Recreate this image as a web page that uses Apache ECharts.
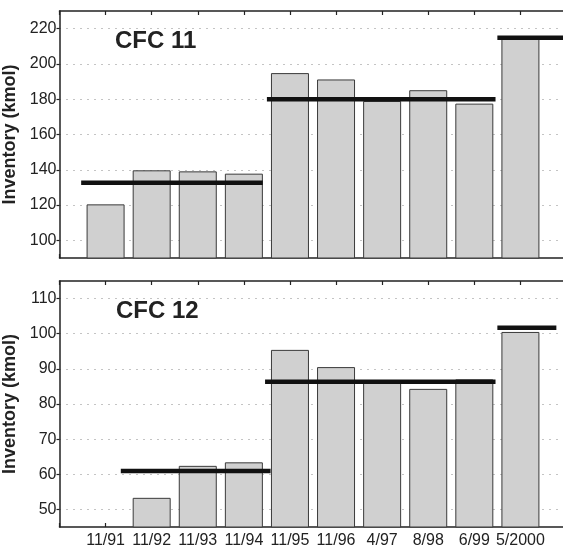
<!DOCTYPE html>
<html>
<head>
<meta charset="utf-8">
<script src="https://cdn.jsdelivr.net/npm/echarts@6/dist/echarts.min.js"></script>
<style>
html,body{margin:0;padding:0;background:#fff;}
#chart{width:563px;height:551px;}
</style>
</head>
<body>
<div id="chart"></div>
<script>
// ---- data ----
const categories = ['11/91','11/92','11/93','11/94','11/95','11/96','4/97','8/98','6/99','5/2000'];
const cfc11Values = [120.4, 139.7, 139.1, 137.8, 194.8, 191.2, 179, 185.1, 177.5, 214.4];
const cfc12Values = [null, 53.3, 62.4, 63.4, 95.4, 90.5, 86, 84.3, 87, 100.5];
// group means (thick lines): start / end on the category scale, and value
const cfc11MeanStart = [0.47, 4.5, 9.5];
const cfc11MeanEnd   = [4.41, 9.46, 11];
const cfc11MeanValue = [132.6, 180, 214.8];
const cfc12MeanStart = [1.33, 4.46, 9.5];
const cfc12MeanEnd   = [4.58, 9.46, 10.78];
const cfc12MeanValue = [60.9, 86.3, 101.7];
const cfc11Ticks = [100, 120, 140, 160, 180, 200, 220];
const cfc12Ticks = [50, 60, 70, 80, 90, 100, 110];
const panelTitles = ['CFC 11', 'CFC 12'];
const yAxisTitle = 'Inventory (kmol)';

// ---- chart ----
const FONT = "'Liberation Sans', Arial, Helvetica, sans-serif";
const frameColor = '#222';
const chart = echarts.init(document.getElementById('chart'));

function barData(vals){ return vals.map((v,i)=> v==null ? null : [i+1, v]); }
function meanSeries(starts, ends, vals, axisIdx){
  return vals.map((v,i)=>({
    type:'line', xAxisIndex: axisIdx, yAxisIndex: axisIdx,
    data:[[starts[i], v],[ends[i], v]],
    symbol:'none', silent:true, z:5,
    lineStyle:{color:'#111', width:4.5}
  }));
}

const gridW = 507;
const grids = [
  {left:59.5, top:11, width:gridW, height:247, containLabel:false, outerBoundsMode:'none'},
  {left:59.5, top:281, width:gridW, height:246, containLabel:false, outerBoundsMode:'none'}
];

function xBottom(gi, showLabels){
  return {
    type:'value', gridIndex:gi, position:'bottom', min:0, max:11, interval:1,
    axisLine:{show:true, onZero:false, lineStyle:{color:frameColor, width:1.5}},
    axisTick:{show:true, inside:true, length:4, lineStyle:{color:frameColor, width:1.2}},
    axisLabel:{show:showLabels, margin:6, fontSize:16, fontFamily:FONT, color:'#222',
      formatter:(v)=> (v>=1 && v<=10) ? categories[v-1] : ''},
    splitLine:{show:false}
  };
}
function xTop(gi){
  return {
    type:'value', gridIndex:gi, position:'top', min:0, max:11, interval:1,
    axisLine:{show:true, onZero:false, lineStyle:{color:frameColor, width:1.5}},
    axisTick:{show:true, inside:true, length:4, lineStyle:{color:frameColor, width:1.2}},
    axisLabel:{show:false}, splitLine:{show:false}
  };
}
function yAxisDef(gi, min, max, ticks){
  return {
    type:'value', gridIndex:gi, min:min, max:max,
    name: yAxisTitle, nameLocation:'middle', nameGap:36,
    nameTextStyle:{fontSize:18, fontWeight:'bold', fontFamily:FONT, color:'#222'},
    axisLine:{show:true, onZero:false, lineStyle:{color:frameColor, width:1.5}},
    axisTick:{show:true, inside:false, length:3, customValues:ticks, lineStyle:{color:frameColor, width:1.2}},
    axisLabel:{show:true, margin:3, fontSize:16, fontFamily:FONT, color:'#222', customValues:ticks},
    splitLine:{show:true, lineStyle:{color:'#888', width:1, type:[1,6]}}
  };
}

const option = {
  backgroundColor:'#fff',
  animation:false,
  title: panelTitles.map((t,i)=>({
    text:t, left: i===0 ? 110 : 111, top: i===0 ? 24 : 294,
    textStyle:{fontSize:24, fontWeight:'bold', fontFamily:FONT, color:'#222'}
  })),
  grid: grids,
  xAxis: [xBottom(0,false), xBottom(1,true), xTop(0), xTop(1)],
  yAxis: [yAxisDef(0, 90, 230, cfc11Ticks), yAxisDef(1, 45, 115, cfc12Ticks)],
  series: [
    {type:'bar', xAxisIndex:0, yAxisIndex:0, data:barData(cfc11Values), barWidth:38,
      itemStyle:{color:'#d0d0d0', borderColor:'#3a3a3a', borderWidth:1}, z:2},
    {type:'bar', xAxisIndex:1, yAxisIndex:1, data:barData(cfc12Values), barWidth:38,
      itemStyle:{color:'#d0d0d0', borderColor:'#3a3a3a', borderWidth:1}, z:2},
    ...meanSeries(cfc11MeanStart, cfc11MeanEnd, cfc11MeanValue, 0),
    ...meanSeries(cfc12MeanStart, cfc12MeanEnd, cfc12MeanValue, 1)
  ]
};
chart.setOption(option);
</script>
</body>
</html>
